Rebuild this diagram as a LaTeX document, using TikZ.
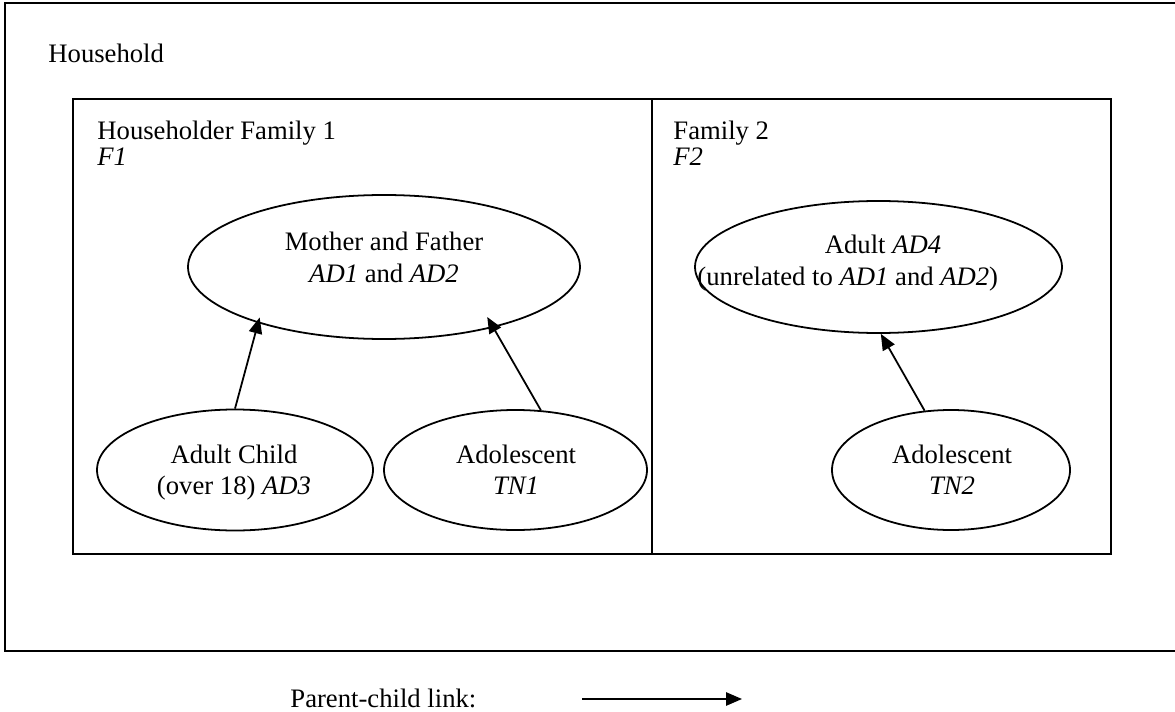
\documentclass[tikz,border=0pt]{standalone}
\usepackage{fontspec}
\setmainfont{Liberation Serif}
\usetikzlibrary{arrows.meta,shapes.geometric}
\begin{document}
\begin{tikzpicture}[x=0.45pt,y=-0.45pt,
  every node/.style={font=\fontsize{12}{14.4}\selectfont, inner sep=0pt},
  txt/.style={anchor=base},
  txtw/.style={anchor=base west},
  ell/.style={draw, ellipse, line width=0.8pt, inner sep=0pt},
  link/.style={line width=0.8pt, -{Triangle[length=7.2pt,width=6pt]}},
  outerbox/.style={line width=1.3pt},
  innerbox/.style={line width=1pt}]
\useasboundingbox (0,0) rectangle (1175,712);
% containers
\draw[outerbox] (5,3) rectangle (1180,651);
\draw[innerbox] (73,99) rectangle (1111,554);
\draw[innerbox] (652,99) -- (652,554);
% container labels
\node[txtw] (hh) at (48,63) {Household};
\node[txtw] (f1a) at (97,140) {Householder Family 1};
\node[txtw] (f1b) at (97,165) {\textit{F1}};
\node[txtw] (f2a) at (673,140) {Family 2};
\node[txtw] (f2b) at (673,165) {\textit{F2}};
% ellipses
\node[ell, minimum width=176.4pt, minimum height=64.8pt] (E1) at (384,267) {};
\node[ell, minimum width=124.2pt, minimum height=54.45pt] (E2) at (235,470) {};
\node[ell, minimum width=118.35pt, minimum height=54pt] (E3) at (515.5,470) {};
\node[ell, minimum width=165.15pt, minimum height=59.4pt] (E4) at (878.5,267) {};
\node[ell, minimum width=107.1pt, minimum height=54pt] (E5) at (951,470) {};
% ellipse texts
\node[txt] (t1a) at (384,250) {Mother and Father};
\node[txt] (t1b) at (384,282) {\textit{AD1} and \textit{AD2}};
\node[txt] (t2a) at (234,463) {Adult Child};
\node[txt] (t2b) at (234,494) {(over 18) \textit{AD3}};
\node[txt] (t3a) at (516,463) {Adolescent};
\node[txt] (t3b) at (516,494) {\textit{TN1}};
\node[txt] (t4a) at (883,253) {Adult \textit{AD4}};
\node[txtw] (t4b) at (697,285) {(unrelated to \textit{AD1} and \textit{AD2})};
\node[txt] (t5a) at (952,463) {Adolescent};
\node[txt] (t5b) at (952,494) {\textit{TN2}};
% links
\draw[link, shorten >=-2.6pt] (E2.north) -- (E1.204);
\draw[link, shorten >=-5.5pt] (E3.67) -- (E1.331);
\draw[link] (E5.114) -- (E4.272);
% legend
\node[txtw] (leg) at (290,707) {Parent-child link:};
\coordinate (legA) at (582,699);
\coordinate (legB) at (742,699);
\draw[link] (legA) -- (legB);
\end{tikzpicture}
\end{document}
